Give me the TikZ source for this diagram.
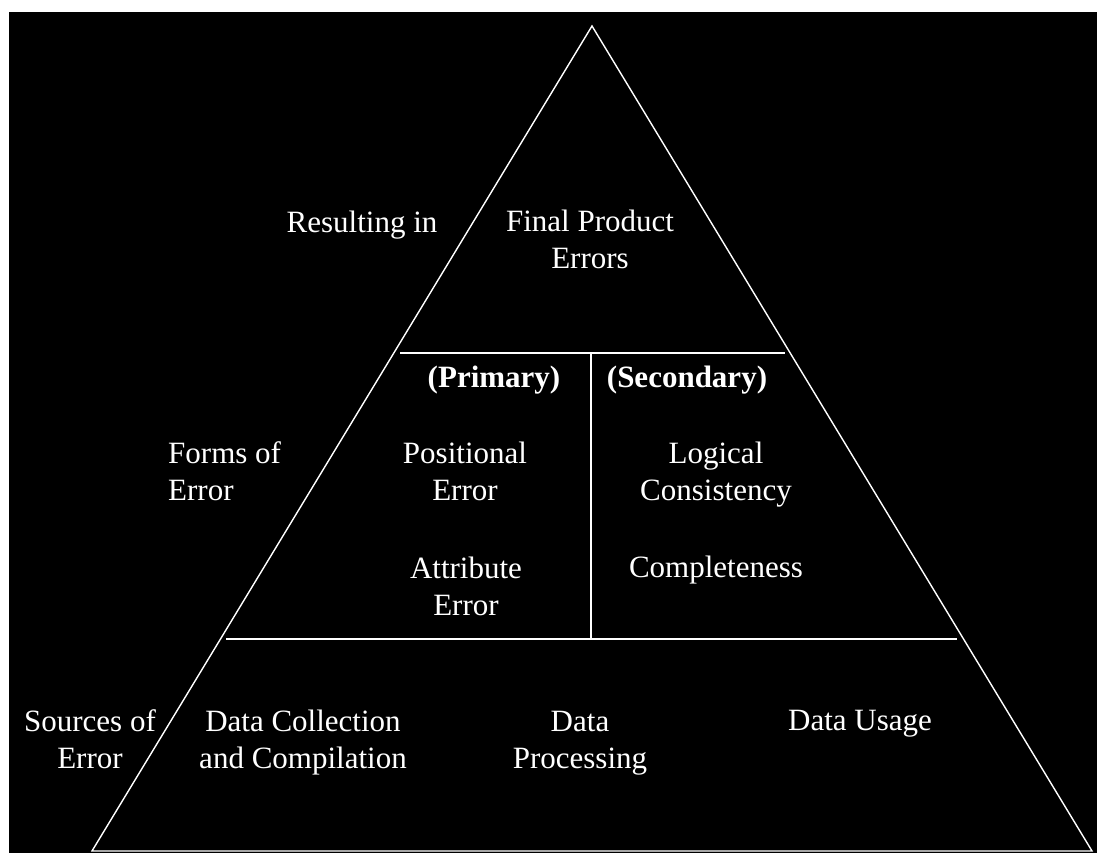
\documentclass[tikz,border=0pt]{standalone}
\usepackage{fontspec}
\setmainfont{Liberation Serif}
\begin{document}
\begin{tikzpicture}[x=1pt,y=-1pt,
  lbl/.style={text=white,font=\fontsize{31}{37}\selectfont,align=center,anchor=base,inner sep=0pt},
  lbll/.style={lbl,align=left},
  hdr/.style={lbl,font=\fontsize{31}{37}\selectfont\bfseries},
  edge/.style={draw=white,line width=1.4pt}]
\useasboundingbox (0,0) rectangle (1097,853);
\fill[white] (0,0) rectangle (1097,853);
\fill[black] (9,12) rectangle (1097,853);
% triangle
\coordinate (apex) at (592,26);
\coordinate (bl) at (92,851);
\coordinate (br) at (1092,851);
\draw[edge,line join=miter] (apex) -- (bl) -- (br) -- cycle;
% dividers
\coordinate (t1l) at (400,353);
\coordinate (t1r) at (785,353);
\coordinate (vtop) at (591,353);
\coordinate (vbot) at (591,639);
\coordinate (t2l) at (226,639);
\coordinate (t2r) at (957,639);
\draw[edge] (t1l) -- (t1r);
\draw[edge] (vtop) -- (vbot);
\draw[edge] (t2l) -- (t2r);
% labels (multi-line nodes: base = baseline of last line)
\node[lbl] (res) at (362,232) {Resulting in};
\node[lbl] (fpe) at (590,268) {Final Product\\Errors};
\node[hdr] (prim) at (494,387) {(Primary)};
\node[hdr] (sec) at (687,387) {(Secondary)};
\node[lbll,anchor=base west] (forms) at (168,500) {Forms of\\Error};
\node[lbl] (pos) at (465,500) {Positional\\Error};
\node[lbl] (attr) at (466,615) {Attribute\\Error};
\node[lbl] (log) at (716,500) {Logical\\Consistency};
\node[lbl] (comp) at (716,577) {Completeness};
\node[lbl] (src) at (90,768) {Sources of\\Error};
\node[lbl] (dcc) at (303,768) {Data Collection\\and Compilation};
\node[lbl] (dp) at (580,768) {Data\\Processing};
\node[lbl] (du) at (860,730) {Data Usage};
\end{tikzpicture}
\end{document}
